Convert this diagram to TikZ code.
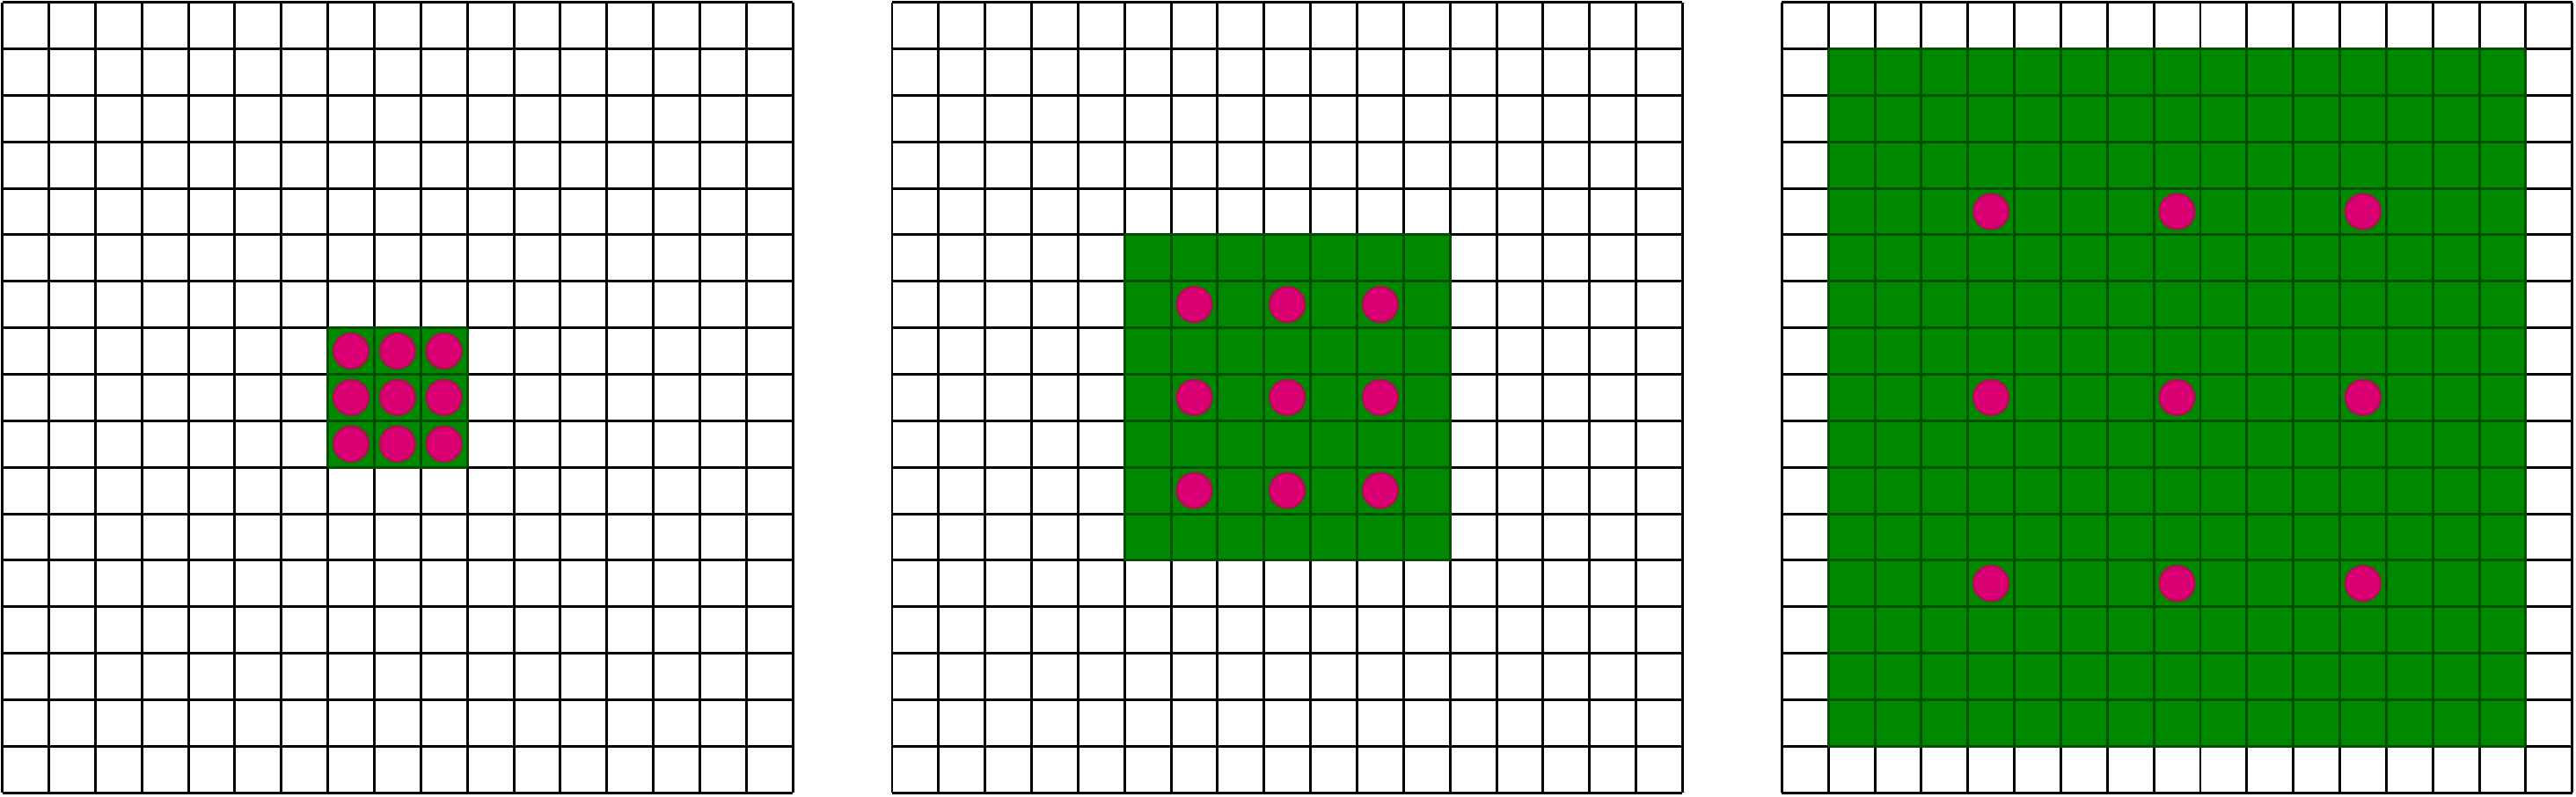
\documentclass[tikz,border=0pt]{standalone}
\usepackage{tikz}
\usetikzlibrary{positioning}
\definecolor{cellgreen}{RGB}{0,137,0}
\definecolor{linegreen}{RGB}{0,80,0}
\definecolor{dotpink}{RGB}{218,0,115}
\definecolor{dotrim}{RGB}{165,20,75}
\begin{document}
\begin{tikzpicture}[x=0.5cm, y=0.5cm,
  gridline/.style={line width=0.8pt, black, step=0.5cm},
  field/.style={fill=cellgreen},
  fieldline/.style={line width=0.8pt, linegreen, step=0.5cm},
  tap/.style={circle, fill=dotpink, draw=dotrim, line width=0.6pt,
    minimum size=0.38cm, inner sep=0pt}]
\useasboundingbox (-0.051,-0.08) rectangle (55.35,17.051);
% one 17x17 input per dilation rate (1, 2, 4)
\foreach \k/\dil/\off in {1/1/0, 2/2/19.135, 3/4/38.27} {
  \begin{scope}[shift={(\off,0)}]
    \pgfmathsetmacro\lo{9-2*\dil}
    \pgfmathsetmacro\hi{8+2*\dil}
    \draw[gridline] (0,0) grid (17,17);
    \fill[field] (\lo,\lo) rectangle (\hi,\hi);
    \draw[fieldline] (\lo,\lo) grid (\hi,\hi);
    \foreach \i in {-1,0,1}
      \foreach \j in {-1,0,1}
        \node[tap] (tap-\k-\i-\j) at (8.5+\i*\dil, 8.5+\j*\dil) {};
  \end{scope}
}
\end{tikzpicture}
\end{document}
